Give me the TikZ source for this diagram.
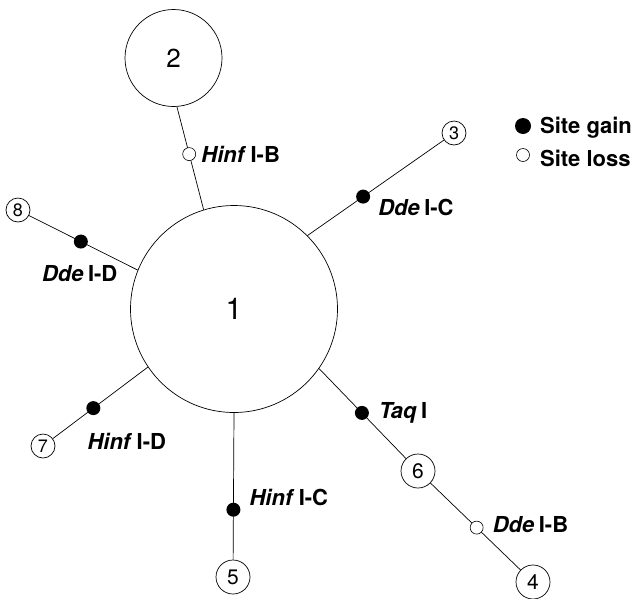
\documentclass[tikz,border=0pt]{standalone}
\usepackage{fontspec}
\setmainfont{TeX Gyre Heros}
\usetikzlibrary{calc}
\newcommand{\enz}[2]{\textit{#1}\hspace{0.2em}#2}
\begin{document}
\begin{tikzpicture}[x=1pt,y=-1pt,
  hap/.style={circle,draw,line width=0.7pt,inner sep=0pt,fill=white},
  smallhap/.style={hap,minimum size=24pt,font=\fontsize{18}{20}\selectfont},
  midhap/.style={hap,minimum size=34pt,font=\fontsize{21}{23}\selectfont},
  gain/.style={circle,fill=black,inner sep=0pt,minimum size=14pt},
  loss/.style={circle,draw,fill=white,line width=0.6pt,inner sep=0pt,minimum size=13pt},
  lab/.style={font=\bfseries\fontsize{22}{24}\selectfont,inner sep=0pt,anchor=west},
  link/.style={line width=0.7pt}]
\useasboundingbox (0,0) rectangle (632,598);

% haplotypes
\node[hap,minimum size=207pt,font=\fontsize{30}{32}\selectfont] (h1) at (234,309) {1};
\node[hap,minimum size=97pt,font=\fontsize{26}{28}\selectfont]  (h2) at (173.5,58) {2};
\node[smallhap] (h3) at (454,133) {3};
\node[smallhap] (h8) at (18,210) {8};
\node[smallhap] (h7) at (43,446) {7};
\node[midhap] (h5) at (233,577) {5};
\node[midhap] (h6) at (418,471) {6};
\node[midhap] (h4) at (533,582) {4};

% connections
\draw[link] (h2.274) -- (h1.107);
\draw[link] (h1.45) -- (h3);
\draw[link] (h1.158.4) -- (h8);
\draw[link] (h1.214.4) -- (h7);
\draw[link] (h1.270) -- (h5);
\draw[link] (h1.325) -- (h6);
\draw[link] (h6) -- (h4);

% restriction site changes
\node[loss] (mHB) at ($(h2.274)!0.46!(h1.107)$) {};
\node[gain] (mDC) at ($(h1.45)!0.38!(h3)$) {};
\node[gain] (mDD) at ($(h1.158.4)!0.475!(h8)$) {};
\node[gain] (mHD) at ($(h1.214.4)!0.52!(h7)$) {};
\node[gain] (mHC) at ($(h1.270)!0.59!(h5)$) {};
\node[gain] (mTq) at ($(h1.325)!0.433!(h6)$) {};
\node[loss] (mDB) at ($(h6)!0.51!(h4)$) {};

\node[lab] at ($(mHB)+(12,0)$) {\enz{Hinf}{I-B}};
\node[lab] at ($(mDC)+(15,11)$) {\enz{Dde}{I-C}};
\node[lab] at ($(mDD)+(-39,32)$) {\enz{Dde}{I-D}};
\node[lab] at ($(mHD)+(-6,33)$) {\enz{Hinf}{I-D}};
\node[lab] at ($(mHC)+(16,-12)$) {\enz{Hinf}{I-C}};
\node[lab] at ($(mTq)+(17,0)$) {\enz{Taq}{I}};
\node[lab] at ($(mDB)+(16,-3)$) {\enz{Dde}{I-B}};

% legend
\node[gain,minimum size=16pt] (kg) at (523,126) {};
\node[lab] at ($(kg)+(17,2)$) {Site gain};
\node[loss,minimum size=13pt] (kl) at (523,155) {};
\node[lab] at ($(kl)+(17,3)$) {Site loss};
\end{tikzpicture}
\end{document}
